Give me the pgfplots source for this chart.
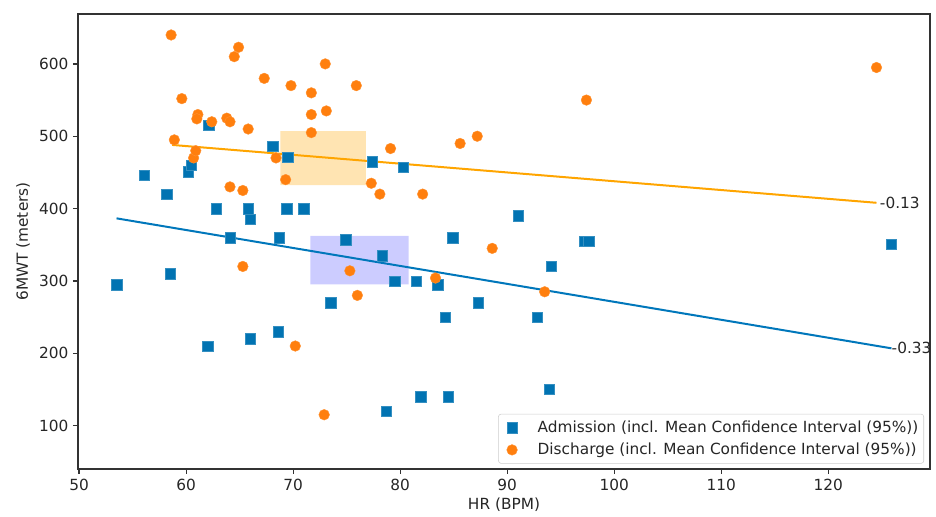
\documentclass[border=0pt]{standalone}
\usepackage{fontspec}
\setmainfont{DejaVu Sans}
\usepackage{pgfplots}
\pgfplotsset{compat=1.18}
\definecolor{admblue}{RGB}{1,115,178}
\definecolor{disorange}{RGB}{255,127,14}
\definecolor{lineorange}{RGB}{255,165,0}
\definecolor{lineblue}{RGB}{0,119,187}
\definecolor{spine}{RGB}{50,50,50}

\pgfplotsset{wideimg/.style={legend image code/.code={%
    \path (0pt,0pt) (25pt,0pt);
    \draw[mark repeat=2,mark phase=2] plot coordinates {(0pt,0pt) (8pt,0pt) (25pt,0pt)};}}}

\begin{document}
\begin{tikzpicture}
\useasboundingbox (-58.5pt,-36pt) rectangle (643.5pt,351.75pt);
\begin{axis}[
    scale only axis,
    width=639pt, height=341.25pt,
    xmin=49.9, xmax=129.5, ymin=40, ymax=669,
    xtick={50,60,...,120},
    ytick={100,200,...,600},
    axis line style={spine, line width=0.9pt},
    tick style={spine, line width=0.9pt},
    tick align=outside,
    major tick length=3.75pt,
    xtick pos=bottom, ytick pos=left,
    /pgf/number format/assume math mode=true,
    tick label style={font=\fontsize{11.5}{13}\selectfont, text=black!85},
    xlabel={HR (BPM)},
    ylabel={6MWT (meters)},
    label style={font=\fontsize{11.5}{13}\selectfont, text=black!85},
    xlabel style={at={(axis description cs:0.5,-0.079)}, anchor=center},
    ylabel style={at={(axis description cs:-0.0645,0.5)}, anchor=center},
    clip=false,
    legend cell align=left,
    legend style={at={(rel axis cs:1,0)}, anchor=south east, xshift=-4.5pt, yshift=4pt,
        draw=black!20, rounded corners=2pt, fill=white,
        font=\fontsize{11.5}{13}\selectfont, text=black!85,
        inner xsep=2pt, inner ysep=3pt, row sep=2.5pt},
]
% Admission
\addplot[only marks, wideimg, mark=square*, mark size=3.9pt, mark options={draw=admblue!80!white, fill=admblue, line width=0.3pt}] coordinates {
(53.5,295) (56.1,446) (58.2,420) (58.5,310) (60.2,451) (60.5,460)
(62.0,210) (62.1,515) (62.8,400) (64.1,360) (65.8,400) (66.0,385)
(66.0,220) (68.1,486) (68.6,230) (68.7,360) (69.4,400) (69.5,471)
(71.0,400) (73.5,270) (74.9,357) (77.4,465) (78.3,335) (78.7,120)
(79.5,300) (80.3,457) (81.5,300) (81.9,140) (83.5,295) (84.2,250)
(84.5,140) (84.9,360) (87.3,270) (91.0,390) (92.8,250) (93.9,150)
(94.1,320) (97.2,355) (97.6,355) (125.9,351)
};
\addlegendentry{Admission (incl. Mean Confidence Interval (95\%))}
% Discharge
\addplot[only marks, wideimg, mark=*, mark size=4pt, mark options={draw=disorange!85!white, fill=disorange, line width=0.3pt}] coordinates {
(58.6,640) (58.9,495) (59.6,552) (60.7,470) (60.9,480) (61.1,530)
(61.0,524) (62.4,520) (63.8,525) (64.1,520) (64.1,430) (64.5,610)
(64.9,623) (65.3,425) (65.3,320) (65.8,510) (67.3,580) (68.4,470)
(69.3,440) (69.8,570) (70.2,210) (71.7,560) (71.7,530) (71.7,505)
(72.9,115) (73.0,600) (73.1,535) (75.3,314) (75.9,570) (76.0,280)
(77.3,435) (78.1,420) (79.1,483) (82.1,420) (83.3,304) (85.6,490)
(87.2,500) (88.6,345) (93.5,285) (97.4,550) (124.5,595)
};
\addlegendentry{Discharge (incl. Mean Confidence Interval (95\%))}
% mean confidence intervals
\addplot[forget plot, draw=none, fill=lineorange, fill opacity=0.3] coordinates {
(68.8,432.4) (76.8,432.4) (76.8,507.2) (68.8,507.2) (68.8,432.4)};
\addplot[forget plot, draw=none, fill=blue, fill opacity=0.2] coordinates {
(71.6,295.3) (80.8,295.3) (80.8,362.2) (71.6,362.2) (71.6,295.3)};
% regression lines
\addplot[forget plot, lineorange, line width=1.5pt] coordinates {(58.7,488) (124.5,408)};
\addplot[forget plot, lineblue, line width=1.5pt] coordinates {(53.5,386.5) (125.9,206.8)};
\node[anchor=west, inner sep=0pt, font=\fontsize{11.5}{13}\selectfont, text=black!85] at (axis cs:124.8,408) {-0.13};
\node[anchor=west, inner sep=0pt, font=\fontsize{11.5}{13}\selectfont, text=black!85] at (axis cs:125.9,206.8) {-0.33};
\end{axis}
\end{tikzpicture}
\end{document}
